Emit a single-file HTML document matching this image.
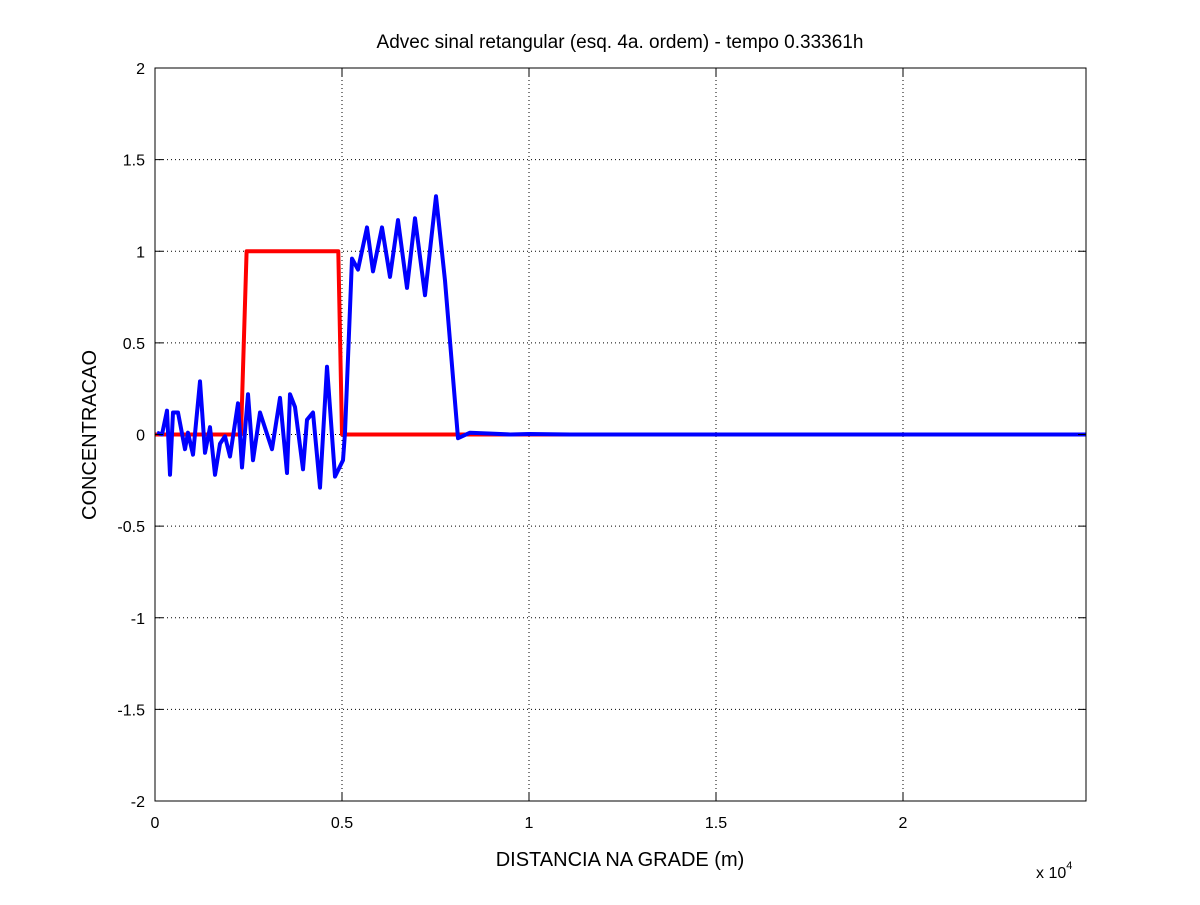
<!DOCTYPE html>
<html><head><meta charset="utf-8"><style>
body{margin:0;background:#fff;}
svg{font-family:"Liberation Sans",sans-serif;}
</style></head><body>
<svg id="chart" width="1200" height="900" viewBox="0 0 1200 900">
<rect width="1200" height="900" fill="#fff"/>
<g id="grid"></g>
<g id="lines"></g>
<rect x="155" y="68" width="931" height="733" fill="none" stroke="#000" stroke-width="1"/>
<g id="ticks"></g>
<text x="620" y="48" text-anchor="middle" font-size="19">Advec sinal retangular (esq. 4a. ordem) - tempo 0.33361h</text>
<text x="620" y="866" text-anchor="middle" font-size="20">DISTANCIA NA GRADE (m)</text>
<text transform="translate(96,435) rotate(-90)" text-anchor="middle" font-size="20">CONCENTRACAO</text>
<text x="1036" y="878" font-size="16">x 10<tspan font-size="11" dy="-9">4</tspan></text>
</svg>
<script>
const xTicks=[0,5000,10000,15000,20000];
const xTickLabels=["0","0.5","1","1.5","2"];
const yTicks=[-2,-1.5,-1,-0.5,0,0.5,1,1.5,2];
const yTickLabels=["-2","-1.5","-1","-0.5","0","0.5","1","1.5","2"];
const redX=[0,2300,2450,4900,5000,24893];
const redY=[0,0,1,1,0,0];
const blueX=[53,187,321,401,481,615,802,882,1016,1203,1337,1471,1604,1738,1872,2005,2219,2326,2487,2620,2807,3128,3342,3529,3610,3743,3957,4064,4225,4412,4599,4813,5027,5080,5267,5428,5668,5829,6070,6283,6497,6738,6952,7219,7513,7754,8102,8422,9000,9500,10000,11096,24893];
const blueY=[0.01,0,0.13,-0.22,0.12,0.12,-0.08,0.01,-0.11,0.29,-0.10,0.04,-0.22,-0.05,-0.01,-0.12,0.17,-0.18,0.22,-0.14,0.12,-0.08,0.2,-0.21,0.22,0.15,-0.19,0.08,0.12,-0.29,0.37,-0.23,-0.14,0.01,0.96,0.9,1.13,0.89,1.13,0.86,1.17,0.8,1.18,0.76,1.30,0.84,-0.02,0.01,0.005,0,0.003,0,0];
const X0=155,X1=1086,Y0=68,Y1=801,XMAX=24893;
const sx=v=>X0+v/XMAX*(X1-X0);
const sy=v=>Y0+(2-v)/4*(Y1-Y0);
const NS="http://www.w3.org/2000/svg";
const grid=document.getElementById('grid'),ticks=document.getElementById('ticks'),lines=document.getElementById('lines');
function mk(tag,attrs,parent){const e=document.createElementNS(NS,tag);for(const k in attrs)e.setAttribute(k,attrs[k]);parent.appendChild(e);return e;}
xTicks.forEach((t,i)=>{
  const x=sx(t);
  if(i>0){const g=mk('line',{x1:x,x2:x,y1:Y0,y2:Y1,stroke:'#000','stroke-width':1,'stroke-dasharray':'1,3'},grid);
  
  }
  const a=mk('line',{x1:x,x2:x,y1:Y1,y2:Y1-8,stroke:'#000'},ticks);
  
  
  const b=mk('line',{x1:x,x2:x,y1:Y0,y2:Y0+8,stroke:'#000'},ticks);
  
  
  const tx=mk('text',{x:x,y:Y1+27,'text-anchor':'middle','font-size':16},ticks);
  tx.textContent=xTickLabels[i];
  
  
});
yTicks.forEach((t,i)=>{
  const y=sy(t);
  if(i>0&&i<yTicks.length-1){const g=mk('line',{x1:X0,x2:X1,y1:y,y2:y,stroke:'#000','stroke-width':1,'stroke-dasharray':'1,3'},grid);
  
  }
  const a=mk('line',{x1:X0,x2:X0+8,y1:y,y2:y,stroke:'#000'},ticks);
  
  
  const b=mk('line',{x1:X1,x2:X1-8,y1:y,y2:y,stroke:'#000'},ticks);
  
  
  const tx=mk('text',{x:X0-10,y:y+6,'text-anchor':'end','font-size':16},ticks);
  tx.textContent=yTickLabels[i];
  
  
});
function path(xs,ys){return xs.map((v,i)=>(i?'L':'M')+sx(v).toFixed(1)+','+sy(ys[i]).toFixed(1)).join(' ');}
const r=mk('path',{d:path(redX,redY),fill:'none',stroke:'#ff0000','stroke-width':4,'stroke-linejoin':'round'},lines);


const bl=mk('path',{d:path(blueX,blueY),fill:'none',stroke:'#0000ff','stroke-width':4,'stroke-linejoin':'round'},lines);


</script>
</body></html>
